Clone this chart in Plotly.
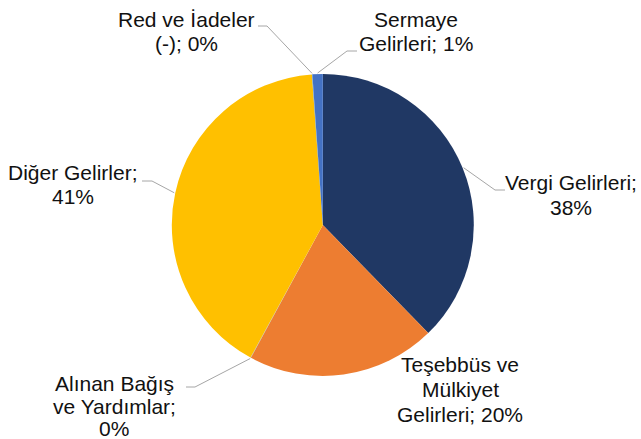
import math
import plotly.graph_objects as go

# ---- data ----
labels = ["Vergi Gelirleri", "Teşebbüs ve Mülkiyet Gelirleri", "Alınan Bağış ve Yardımlar",
          "Diğer Gelirler", "Red ve İadeler (-)", "Sermaye Gelirleri"]
values = [37.7, 20.2, 0.05, 40.9, 0.05, 1.1]
colors = ["#203864", "#ED7D31", "#A5A5A5", "#FFC000", "#5B9BD5", "#4472C4"]
# label text lines as in the chart, {p} = rounded percent
label_lines = [
    ["Vergi Gelirleri;", "{p}%"],
    ["Teşebbüs ve", "Mülkiyet", "Gelirleri; {p}%"],
    ["Alınan Bağış", "ve Yardımlar;", "{p}%"],
    ["Diğer Gelirler;", "{p}%"],
    ["Red ve İadeler", "(-); {p}%"],
    ["Sermaye", "Gelirleri; {p}%"],
]

W, H = 641, 439
CX, CY, R = 322.8, 225.0, 151.0

# label centre x and baselines of each line (px); leader elbow/end (px)
label_x = [571, 460, 114, 73, 186, 416]
label_baselines = [[190, 215], [372, 397, 422], [391, 414, 436], [180, 204], [27, 51], [27, 51]]
leaders = [
    [(495, 190), (505, 190)],
    None,
    [(195, 387), (186, 387)],
    [(152, 181), (142, 181)],
    [(267, 26), (258, 26)],
    [(347, 51), (357, 51)],
]

def px(x):
    return x / W

def py(y):
    return 1 - y / H

fig = go.Figure(go.Pie(
    labels=labels, values=values, sort=False, direction="clockwise", rotation=0,
    marker=dict(colors=colors, line=dict(width=0)),
    textinfo="none", hoverinfo="label+percent", showlegend=False,
    domain=dict(x=[px(CX - R), px(CX + R)], y=[py(CY + R), py(CY - R)]),
))

total = sum(values)
cum = 0.0
shapes = []
annotations = []
for i, v in enumerate(values):
    mid = (cum + v / 2) / total * 2 * math.pi
    cum += v
    pct = round(v / total * 100)
    for line, base in zip(label_lines[i], label_baselines[i]):
        annotations.append(dict(
            x=px(label_x[i]), y=py(base - 7.5), xref="paper", yref="paper", showarrow=False,
            text=line.format(p=pct), align="center",
            xanchor="center", yanchor="middle",
            font=dict(family="Liberation Sans, Arial, sans-serif", size=21, color="#111111"),
        ))
    if leaders[i] is not None:
        ex = CX + (R + 1) * math.sin(mid)
        ey = CY - (R + 1) * math.cos(mid)
        pts = [(ex, ey)] + leaders[i]
        path = "M " + " L ".join(f"{px(a)},{py(b)}" for a, b in pts)
        shapes.append(dict(type="path", xref="paper", yref="paper", path=path,
                           line=dict(color="#A6A6A6", width=1)))

fig.update_layout(
    width=W, height=H, margin=dict(l=0, r=0, t=0, b=0),
    paper_bgcolor="white", plot_bgcolor="white",
    shapes=shapes, annotations=annotations,
)
fig.write_html("out.html", config={"displayModeBar": False},
               post_script="document.body.style.margin='0';")
